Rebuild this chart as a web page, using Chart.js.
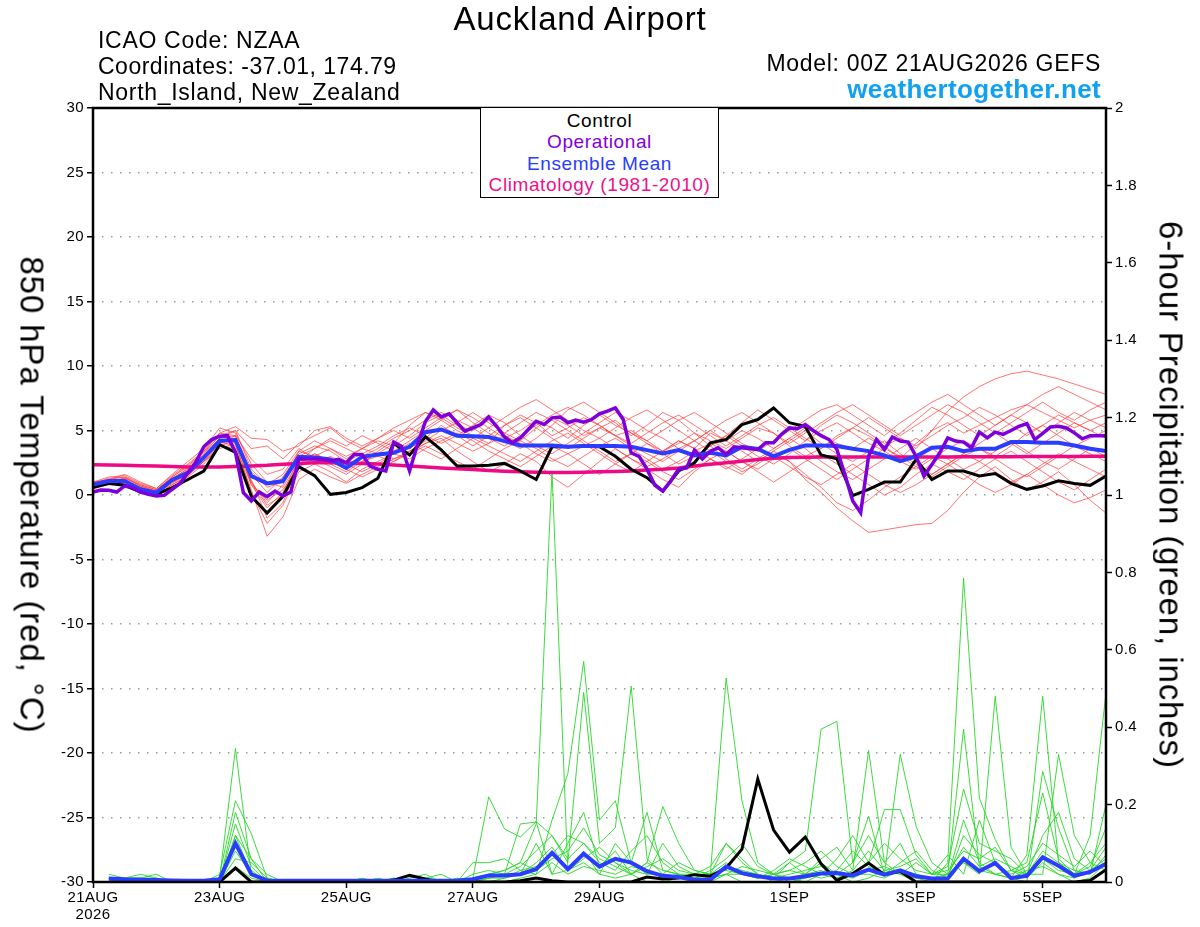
<!DOCTYPE html>
<html>
<head>
<meta charset="utf-8">
<title>Auckland Airport</title>
<script src="https://cdn.jsdelivr.net/npm/chart.js@4.4.1/dist/chart.umd.min.js"></script>
<style>
  body { margin: 0; background: #fff; }
  #wrap { position: relative; width: 1200px; height: 927px; font-family: "Liberation Sans", Arial, sans-serif; color: #000; }
  #c { position: absolute; left: 0; top: 0; }
  .t { position: absolute; white-space: nowrap; line-height: 1; }
  .vt { position: absolute; white-space: nowrap; line-height: 1; font-size: 33px; letter-spacing: 0.9px;
        transform-origin: 0 0; transform: rotate(90deg) translate(-50%, -50%); }
  #legend { position: absolute; left: 480px; top: 108px; width: 237px; height: 89px; border: 1.5px solid #000;
            border-top: none; background: #fff; font-size: 19px; letter-spacing: 0.6px; text-align: center; }
  #legend div { position: absolute; left: 0; width: 100%; line-height: 1; }
</style>
</head>
<body>
<div id="wrap">
  <canvas id="c" width="1200" height="927"></canvas>

  <div class="t" style="left:380px;width:400px;text-align:center;top:2px;font-size:33px;letter-spacing:0.8px">Auckland Airport</div>
  <div class="t" style="left:98px;top:29px;font-size:23px;letter-spacing:0.7px">ICAO Code: NZAA</div>
  <div class="t" style="left:98px;top:55px;font-size:23px;letter-spacing:0.5px">Coordinates: -37.01, 174.79</div>
  <div class="t" style="left:98px;top:81px;font-size:23px;letter-spacing:0.7px">North_Island, New_Zealand</div>
  <div class="t" style="right:99px;top:52px;font-size:23px;letter-spacing:0.7px">Model: 00Z 21AUG2026 GEFS</div>
  <div class="t" style="right:99px;top:76px;font-size:26px;font-weight:bold;letter-spacing:0.35px;color:#12a0f0">weathertogether.net</div>

  <div class="vt" style="left:32px;top:495px">850 hPa Temperature (red, °C)</div>
  <div class="vt" style="left:1171px;top:495px">6-hour Precipitation (green, inches)</div>

  <div id="legend">
    <div style="top:3px;color:#000">Control</div>
    <div style="top:24px;color:#8000dd">Operational</div>
    <div style="top:46px;color:#2a3cff">Ensemble Mean</div>
    <div style="top:67px;color:#ee1188">Climatology (1981-2010)</div>
  </div>
</div>

<script>
// forecast hours of the x ticks and their labels
const tickHours = [0, 48, 96, 144, 192, 264, 312, 360];
const tickLabels = [['21AUG', '2026'], '23AUG', '25AUG', '27AUG', '29AUG', '1SEP', '3SEP', '5SEP'];

// 850 hPa temperature, 6-hourly from 00Z 21AUG (degC)
const controlTemp = [
  0.57, 0.9, 0.75, 0.23, 0.05, 0.57, 1.2, 1.85,
  3.9, 3.3, -0.1, -1.4, -0.1, 2.2, 1.5, 0.05,
  0.2, 0.57, 1.3, 4.0, 3.1, 4.5, 3.5, 2.24,
  2.24, 2.3, 2.45, 1.86, 1.2, 3.74, 3.74, 3.8,
  3.74, 3.0, 2.0, 1.34, 0.3, 1.86, 2.5, 4.05,
  4.3, 5.46, 5.85, 6.75, 5.6, 5.3, 3.1, 2.8,
  -0.05, 0.44, 1.0, 1.0, 2.76, 1.2, 1.86, 1.86,
  1.47, 1.67, 0.9, 0.44, 0.7, 1.1, 0.9, 0.75, 1.47
];
const meanTemp = [
  0.82, 1.08, 1.08, 0.44, 0.18, 1.16, 1.73, 2.9,
  4.2, 4.25, 1.47, 0.9, 1.08, 2.96, 2.9, 2.76,
  2.1, 2.96, 3.14, 3.27, 3.74, 4.87, 5.08, 4.6,
  4.56, 4.5, 4.18, 3.84, 3.84, 3.84, 3.74, 3.8,
  3.8, 3.8, 3.74, 3.48, 3.22, 3.48, 3.07, 3.27,
  3.07, 3.74, 3.58, 3.0, 3.5, 3.84, 3.84, 3.8,
  3.58, 3.4, 3.07, 2.63, 3.0, 3.66, 3.74, 3.4,
  3.58, 3.58, 4.1, 4.1, 4.05, 4.05, 3.84, 3.58, 3.4
];
const climoTemp = [
  2.35, 2.33, 2.3, 2.27, 2.24, 2.2, 2.18, 2.17,
  2.17, 2.2, 2.25, 2.3, 2.38, 2.45, 2.5, 2.5,
  2.48, 2.45, 2.4, 2.33, 2.25, 2.18, 2.1, 2.03,
  1.97, 1.9, 1.85, 1.8, 1.77, 1.75, 1.75, 1.77,
  1.8, 1.83, 1.87, 1.93, 2.0, 2.1, 2.25, 2.38,
  2.5, 2.62, 2.75, 2.85, 2.9, 2.93, 2.95, 2.95,
  2.95, 2.95, 2.95, 2.95, 2.95, 2.95, 2.95, 2.96,
  2.96, 2.97, 2.97, 2.98, 2.98, 2.99, 2.99, 3.0, 3.0
];
// operational run, 3-hourly
const operTemp = [
  0.23, 0.39, 0.36, 0.23, 0.7, 0.57, 0.23, 0.05, -0.08, -0.03,
  0.44, 0.9, 1.73, 2.55, 3.74, 4.3, 4.56, 4.6, 3.3, 0.18,
  -0.46, 0.23, -0.13, 0.3, -0.08, 0.23, 2.8, 2.8, 2.8, 2.76,
  2.63, 2.76, 2.5, 3.14, 3.14, 2.24, 2.0, 1.86, 4.1, 3.74,
  1.86, 3.9, 5.7, 6.6, 6.05, 6.3, 5.6, 4.95, 5.2, 5.46,
  6.05, 5.33, 4.5, 4.05, 4.43, 5.08, 5.72, 5.46, 5.98, 6.05,
  5.6, 5.8, 5.64, 5.85, 6.3, 6.5, 6.75, 5.85, 3.27, 3.0,
  2.0, 0.75, 0.3, 1.08, 2.0, 2.1, 3.48, 2.8, 3.4, 3.66,
  3.14, 3.74, 3.66, 3.58, 3.53, 4.05, 4.05, 4.7, 5.2, 5.13,
  5.46, 5.0, 4.6, 4.3, 3.53, 1.6, -0.46, -1.37, 3.0, 4.3,
  3.53, 4.5, 4.18, 4.1, 3.0, 1.47, 2.37, 3.27, 4.43, 4.18,
  4.1, 3.66, 4.87, 4.43, 4.87, 4.7, 5.0, 5.33, 5.54, 4.3,
  4.77, 5.28, 5.33, 5.2, 4.82, 4.36, 4.6, 4.6, 4.6
];
// ensemble members, 6-hourly
const memberTemps = [
  [0.9,1.3,1.4,0.7,0.3,1.4,2.2,3.4, 4.8,4.6,1.0,-0.6,0.8,3.4,3.0,3.6, 2.8,3.6,4.2,3.8,4.6,5.6,6.2,5.4, 5.0,5.8,4.8,4.2,5.2,6.0,5.4,4.6, 5.2,5.8,4.8,4.0,3.4,4.2,3.6,4.8, 4.2,5.0,4.4,3.6,4.4,5.2,4.6,4.0, 3.6,4.4,3.8,2.8,4.0,5.0,5.6,4.8, 5.4,6.0,6.6,7.0,6.4,5.8,5.2,5.8,6.2],
  [0.5,0.8,1.0,0.3,-0.1,0.8,1.4,2.4, 3.8,3.6,0.4,-3.2,-1.7,1.2,2.0,1.4, 0.9,1.6,2.2,2.8,3.2,4.0,4.4,3.4, 2.6,1.8,2.4,3.2,2.6,1.4,0.6,1.6, 2.6,3.6,2.8,2.0,1.2,0.6,1.8,2.8, 2.2,1.6,2.6,3.4,2.6,1.2,0.2,-1.0, -2.0,-2.9,-2.7,-2.5,-2.3,-2.2,-1.2,0.2, 1.4,2.2,1.2,0.4,1.0,1.8,0.8,-0.4,-1.4],
  [0.7,1.1,1.2,0.6,0.2,1.2,1.9,3.0, 4.4,5.0,3.6,3.8,2.8,4.0,4.6,5.2, 4.2,3.6,3.2,4.0,5.4,6.4,6.0,5.2, 4.6,4.0,5.4,6.2,5.6,4.6,5.2,6.0, 5.4,4.6,5.0,4.2,3.4,4.0,4.8,4.2, 3.6,4.4,5.2,4.8,3.8,3.0,3.6,4.6, 5.2,4.6,3.8,4.4,3.6,5.0,6.5,7.6, 8.4,9.0,9.4,9.6,9.3,9.0,8.6,8.2,7.8],
  [1.0,1.2,1.6,1.0,0.5,1.6,2.6,3.6, 5.2,4.8,2.4,1.0,0.6,2.6,3.6,4.4, 3.8,4.6,4.0,3.4,4.2,5.0,5.8,6.6, 5.6,4.8,4.2,3.6,4.4,5.4,6.6,7.2, 6.4,5.6,4.6,5.4,6.4,5.8,4.8,3.8, 4.6,5.6,6.6,5.8,5.0,4.2,5.4,6.2, 5.6,4.8,4.0,4.8,5.8,6.8,6.2,5.4, 4.6,5.4,6.2,5.6,4.8,5.6,6.4,5.8,5.2],
  [0.6,0.9,0.8,0.2,0.0,1.0,1.6,2.6, 4.0,4.4,0.8,-1.0,0.2,2.8,2.4,1.8, 1.0,2.0,2.6,3.2,2.8,3.6,4.2,4.8, 4.2,3.4,2.8,2.2,3.0,3.8,3.2,2.4, 1.6,2.4,3.2,2.6,1.8,1.2,2.0,2.8, 3.4,2.6,1.8,1.0,1.8,2.6,3.2,2.4, 1.6,0.8,0.0,0.6,1.6,2.4,1.8,1.2, 2.0,2.8,3.4,2.6,1.8,1.0,0.4,1.2,2.0],
  [0.8,1.2,1.2,0.5,0.3,1.2,1.8,3.2, 4.6,4.2,1.6,0.2,1.4,3.2,3.8,3.4, 2.6,3.2,3.8,4.6,5.2,4.6,4.0,4.6, 5.4,6.2,5.6,4.6,3.8,3.2,4.0,4.8, 5.6,6.4,5.8,5.0,4.4,3.6,3.0,3.8, 4.6,3.8,3.0,2.4,3.2,4.2,5.0,5.6, 4.8,4.0,3.4,2.6,2.0,2.8,3.6,4.2, 3.6,3.0,3.8,4.8,5.4,4.6,3.8,4.4,5.0],
  [0.7,0.9,1.0,0.4,0.1,0.9,1.6,2.8, 4.2,4.4,1.2,-1.8,-0.6,2.4,3.2,2.6, 2.0,2.6,3.0,2.6,3.4,4.2,5.0,5.6, 6.4,5.6,4.8,5.6,6.4,5.8,5.0,4.2, 3.4,2.6,3.2,4.0,3.2,2.4,3.0,3.8, 2.8,2.0,2.8,3.6,4.4,3.6,2.6,1.8, 1.2,2.0,2.8,3.6,4.4,3.6,2.8,2.0, 2.6,3.4,4.2,3.4,2.6,2.0,2.8,3.6,3.0],
  [0.9,1.0,1.3,0.8,0.4,1.3,2.0,3.0, 4.0,4.6,2.8,1.6,2.0,3.6,2.8,2.2, 1.6,2.4,3.4,4.2,3.6,4.4,5.4,4.6, 3.8,4.6,5.4,6.0,5.2,4.4,3.6,4.4, 5.2,4.6,3.8,3.2,2.6,3.4,4.2,5.0, 4.2,3.4,2.6,3.4,4.2,5.0,4.0,3.2, 2.6,3.4,4.2,3.2,2.4,1.6,2.4,3.2, 4.0,4.8,4.0,3.2,4.0,4.8,5.6,5.0,4.4],
  [0.6,0.8,0.9,0.3,0.1,1.0,1.7,2.6, 3.6,4.0,0.2,-2.2,-0.8,1.8,2.4,3.0, 2.4,1.8,2.4,3.2,4.0,3.4,2.8,3.6, 4.4,3.8,3.2,2.6,3.4,4.2,4.8,4.0, 3.2,2.4,1.8,2.6,3.4,4.2,3.6,2.8, 2.0,2.8,3.6,3.0,2.2,1.4,0.8,1.6, 2.4,1.6,0.8,0.2,0.8,1.6,2.4,3.2, 2.6,1.8,1.0,1.6,2.4,3.2,2.6,2.0,1.4],
  [1.0,1.4,1.5,0.9,0.5,1.5,2.4,3.4, 4.8,5.3,4.4,4.3,3.4,3.8,5.0,5.3, 4.4,3.8,4.4,5.2,5.8,6.4,5.8,5.0, 4.4,5.2,6.0,6.8,7.4,6.6,5.8,5.0, 4.4,5.2,6.0,6.6,5.8,5.0,4.2,5.0, 5.8,6.4,5.6,4.8,4.0,4.8,5.6,6.4, 7.0,6.2,5.4,4.6,5.4,6.2,7.0,6.4, 5.6,4.8,5.6,6.4,7.2,6.4,5.8,6.6,7.2],
  [0.7,1.0,1.1,0.6,0.2,1.1,1.8,2.9, 4.1,3.8,0.8,-0.4,0.4,2.2,2.8,2.4, 1.8,2.6,3.2,2.8,3.4,4.0,4.6,4.0, 3.4,4.0,4.6,4.0,3.2,2.6,3.2,3.8, 4.4,3.6,2.8,2.2,2.8,3.6,4.2,3.4, 2.6,1.8,2.4,3.2,2.6,1.6,0.6,-0.6, -1.2,-0.4,0.6,1.4,2.2,3.0,2.4,1.6, 0.8,0.2,0.8,1.6,0.8,0.0,-0.6,-0.2,0.4],
  [0.8,1.1,1.3,0.7,0.3,1.2,2.1,3.1, 4.4,4.6,1.8,0.6,1.0,3.0,3.6,4.2, 3.6,3.0,3.6,4.4,5.0,5.8,6.4,5.8, 5.2,4.4,3.8,4.6,5.4,6.2,6.8,6.2, 5.4,4.6,4.0,4.8,5.6,6.2,5.4,4.6, 3.8,4.6,5.4,6.0,5.2,4.4,3.6,4.4, 5.2,6.0,5.2,4.4,3.8,4.6,5.4,6.0, 6.8,6.2,5.4,4.6,5.4,6.2,5.6,5.0,5.6],
  [0.6,0.9,1.0,0.4,0.0,0.8,1.5,2.6, 3.8,4.2,1.0,-0.8,0.0,2.6,3.2,2.6, 2.0,1.4,2.0,2.6,3.2,3.8,3.2,2.6, 2.0,2.8,3.6,4.2,3.6,2.8,2.2,3.0, 3.8,4.4,3.6,2.8,2.0,2.6,3.4,4.0, 3.4,2.6,2.0,2.8,3.6,2.8,2.0,1.2, 2.0,2.8,3.6,3.0,2.2,1.4,2.2,3.0, 3.6,2.8,2.0,1.4,2.2,3.0,3.8,3.2,2.6],
  [0.9,1.2,1.4,0.8,0.4,1.4,2.3,3.3, 4.6,5.0,2.0,0.8,1.6,3.4,4.2,3.6, 3.0,3.6,4.4,5.0,4.4,5.2,6.0,6.6, 6.0,5.2,4.4,5.0,5.8,5.2,4.4,5.4, 6.2,5.4,4.8,4.2,5.0,5.8,6.4,5.6, 4.8,4.0,3.4,4.2,5.0,5.8,6.6,7.0, 6.2,5.4,4.6,5.6,6.4,7.2,7.8,7.0, 6.2,5.4,6.2,7.0,7.8,8.4,7.8,7.2,6.6]
];

// 6-hour precipitation (inches), valid 06Z 21AUG onwards
const controlPrecip = [
  0, 0, 0, 0, 0, 0, 0, 0,
  0.036, 0, 0, 0, 0, 0, 0, 0,
  0, 0, 0.005, 0.017, 0.008, 0, 0, 0,
  0, 0, 0.003, 0.01, 0.003, 0, 0, 0,
  0, 0, 0.013, 0.008, 0.01, 0.019, 0.015, 0.036,
  0.085, 0.266, 0.134, 0.077, 0.116, 0.047, 0.004, 0.022,
  0.049, 0.019, 0.028, 0, 0, 0, 0, 0,
  0, 0, 0, 0, 0, 0, 0.004, 0.032
];
const meanPrecip = [
  0.009, 0.007, 0.006, 0.005, 0.004, 0.003, 0.003, 0.007,
  0.1, 0.02, 0.004, 0.003, 0.003, 0.003, 0.003, 0.003,
  0.003, 0.003, 0.003, 0.003, 0.003, 0.003, 0.004, 0.007,
  0.017, 0.017, 0.02, 0.033, 0.075, 0.033, 0.073, 0.04,
  0.06, 0.05, 0.028, 0.016, 0.013, 0.006, 0.006, 0.04,
  0.023, 0.015, 0.009, 0.009, 0.015, 0.022, 0.023, 0.017,
  0.032, 0.019, 0.03, 0.015, 0.009, 0.009, 0.06, 0.028,
  0.049, 0.01, 0.016, 0.064, 0.042, 0.016, 0.026, 0.047
];
const memberPrecips = [
  [.02,.01,.01,.02,0,0,0,.01, .345,.02,0,0,0,0,0,0, 0,.01,0,.02,0,0,0,.01, .02,.03,.05,.15,1.06,.03,.05,.02, .01,.02,0,0,.01,0,0,.02, 0,0,0,.01,.02,.05,.02,0, .01,.03,.02,0,0,.05,.785,.217, .11,.03,.01,.05,.02,0,.01,.05],
  [.01,.01,.02,.01,0,0,0,.02, .21,.125,.01,0,0,0,0,0, .01,0,.01,0,.01,0,0,.05, .05,.06,.03,.02,.16,.28,.57,.16, .21,.05,.18,.03,.02,.01,.02,.1, .06,.02,0,.01,0,.02,.01,.03, .34,.05,.02,.01,0,.02,.395,.04, .02,.01,0,.286,.14,.03,.02,.2],
  [0,.01,.01,.01,0,0,0,0, .18,.06,0,0,0,0,0,0, 0,0,0,.01,.02,0,0,.01, .22,.137,.116,.156,.12,.05,.49,.1, .14,.506,.06,.02,.01,0,.01,.02, .02,.01,.02,.05,.08,.395,.415,.05, .17,.02,.33,.144,.05,.02,.05,.02, .48,.09,.02,.02,.33,.12,.05,.03],
  [.01,0,0,0,0,0,0,0, .15,.04,0,0,0,0,0,0, 0,0,0,0,0,0,0,0, .01,.02,.15,.155,.02,.1,.18,.04, .08,.02,.05,.195,.1,.03,.02,.527, .21,.05,.02,0,.01,.02,.06,.12, .05,.187,.187,.07,.02,.07,.02,.16, .05,.01,.07,.48,.05,.02,.12,.49],
  [0,0,0,0,0,0,0,0, .12,.02,0,0,0,0,0,0, 0,0,0,0,0,0,0,.02, .03,.02,.02,.1,.02,.03,.08,.02, .1,.05,.02,.1,.04,.02,.04,.1, .05,.02,.01,.05,.02,.01,.02,.05, .12,.05,.1,.02,.01,.01,.16,.05, .02,.03,.05,.23,.06,.02,.04,.14],
  [.01,0,.01,0,0,0,0,0, .1,.03,0,0,0,0,0,0, 0,0,.01,0,.01,.02,0,0, .01,.02,.04,.08,.12,.06,.1,.05, .03,.08,.12,.05,.02,.01,.03,.06, .1,.04,.02,.03,.05,.08,.04,.02, .05,.1,.06,.03,.02,.04,.24,.1, .08,.06,.02,.12,.18,.06,.03,.09],
  [0,0,0,0,0,0,0,0, .08,.02,0,0,0,0,0,0, 0,0,0,0,0,0,0,0, 0,.01,.02,.05,.09,.03,.06,.09, .05,.03,.02,.02,.05,.03,.02,.03, .02,.01,.03,.06,.04,.02,.03,.08, .04,.02,.05,.08,.03,.01,.12,.07, .05,.02,.04,.1,.07,.04,.08,.04],
  [.01,.01,0,0,0,0,0,0, .06,.05,.01,0,0,0,0,0, 0,0,0,0,0,0,0,0, .01,.01,.03,.04,.07,.12,.1,.06, .04,.02,.05,.03,.02,.01,.01,.04, .03,.02,.01,.02,.03,.04,.02,.01, .03,.04,.02,.05,.02,.02,.09,.04, .06,.04,.02,.06,.03,.02,.05,.1],
  [0,0,0,0,0,0,0,0, .04,.01,0,0,0,0,0,0, 0,0,0,0,0,0,.01,0, 0,0,.01,.02,.05,.02,.04,.03, .02,.04,.03,.01,.02,.02,.01,.02, .04,.03,.02,.01,.02,.03,.01,.02, .02,.01,.03,.02,.01,.02,.05,.03, .02,.01,.03,.04,.02,.01,.03,.06],
  [.01,0,0,.01,0,0,0,0, .12,.06,.02,0,0,0,0,0, 0,0,0,0,0,0,0,0, .02,.03,.05,.03,.06,.08,.14,.07, .05,.02,.04,.06,.03,.02,.02,.05, .02,.01,.02,.03,.02,.06,.09,.03, .08,.03,.04,.06,.02,.03,.08,.06, .09,.03,.02,.08,.05,.03,.02,.07]
];

// time axes in forecast hours
const hours6 = controlTemp.map((_, k) => k * 6);
const hours3 = operTemp.map((_, j) => j * 3);
const precipHours = controlPrecip.map((_, i) => (i + 1) * 6);

function pts(xs, ys) {
  return ys.map((v, i) => ({ x: xs[i], y: v }));
}

function line(label, xs, ys, color, width, axis) {
  return {
    label: label,
    data: pts(xs, ys),
    yAxisID: axis,
    borderColor: color,
    borderWidth: width,
    pointRadius: 0,
    fill: false,
    tension: 0
  };
}

// first dataset is drawn on top
const datasets = [
  line('Operational', hours3, operTemp, '#7d00dc', 3.5, 'y'),
  line('Ensemble Mean', hours6, meanTemp, '#2a3cff', 4, 'y'),
  line('Control', hours6, controlTemp, '#000000', 3, 'y'),
  line('Climatology (1981-2010)', hours6, climoTemp, '#ee0a84', 3.5, 'y'),
  line('Ensemble Mean precip', precipHours, meanPrecip, '#2a3cff', 4, 'y1'),
  line('Control precip', precipHours, controlPrecip, '#000000', 3, 'y1')
];
memberPrecips.forEach((m, i) => datasets.push(line('P member ' + (i + 1), precipHours, m, 'rgba(40,215,40,0.9)', 1, 'y1')));
memberTemps.forEach((m, i) => datasets.push(line('T member ' + (i + 1), hours6, m, 'rgba(255,50,50,0.68)', 1, 'y')));

// black frame round the plot area
const frame = {
  id: 'frame',
  beforeDraw(chart) {
    chart.ctx.letterSpacing = '0.4px';
  },
  afterDatasetsDraw(chart) {
    const { ctx, chartArea: a } = chart;
    ctx.save();
    ctx.strokeStyle = '#000';
    ctx.lineWidth = 2.5;
    ctx.strokeRect(a.left, a.top, a.right - a.left, a.bottom - a.top);
    ctx.restore();
  }
};

Chart.defaults.font.family = '"Liberation Sans", Arial, sans-serif';
Chart.defaults.color = '#000';

new Chart(document.getElementById('c').getContext('2d'), {
  type: 'line',
  data: { datasets: datasets },
  options: {
    responsive: false,
    animation: false,
    layout: { padding: { top: 108, left: 0, right: 0, bottom: 0 } },
    plugins: {
      legend: { display: false },
      tooltip: { enabled: false }
    },
    scales: {
      x: {
        type: 'linear',
        min: 0,
        max: 384,
        afterFit: function (scale) { scale.height = 45; },
        afterBuildTicks: function (scale) {
          scale.ticks = tickHours.map(h => ({ value: h }));
        },
        ticks: {
          autoSkip: false,
          maxRotation: 0,
          padding: 2,
          font: { size: 15, lineHeight: 1.1 },
          callback: function (value) {
            const i = tickHours.indexOf(value);
            return i >= 0 ? tickLabels[i] : '';
          }
        },
        grid: { drawOnChartArea: false, drawTicks: true, tickLength: 6, tickColor: '#000', tickWidth: 1.5 },
        border: { display: false }
      },
      y: {
        position: 'left',
        min: -30,
        max: 30,
        afterFit: function (scale) { scale.width = 93; },
        ticks: { stepSize: 5, padding: 3, font: { size: 15 } },
        grid: { color: '#9a9a9a', lineWidth: 1.5, tickLength: 6, tickColor: '#000', tickWidth: 1.5 },
        border: { display: false, dash: [1.5, 7.5] }
      },
      y1: {
        position: 'right',
        min: 0,
        max: 2,
        afterFit: function (scale) { scale.width = 94; },
        ticks: {
          stepSize: 0.2,
          padding: 3,
          font: { size: 15 },
          callback: function (value) { return String(Number(value.toFixed(1))); }
        },
        grid: { drawOnChartArea: false, tickLength: 6, tickColor: '#000', tickWidth: 1.5 },
        border: { display: false }
      }
    }
  },
  plugins: [frame]
});
</script>
</body>
</html>
